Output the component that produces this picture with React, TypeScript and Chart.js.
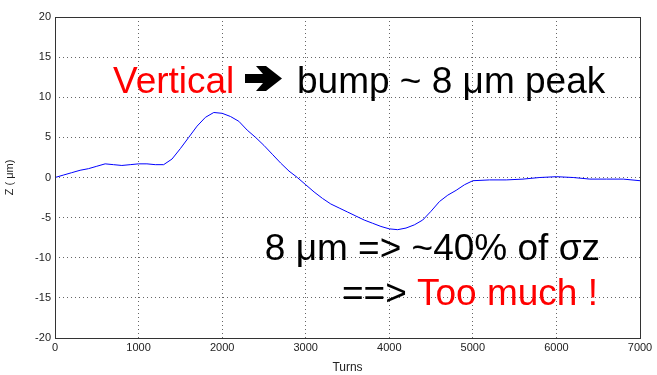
import React, { useEffect, useRef } from "react";
import { Chart, registerables } from "chart.js";

Chart.register(...registerables);

const turns = [0,100,200,300,400,500,600,700,800,900,1000,1100,1200,1300,1400,1500,1600,1700,1800,1900,2000,2100,2200,2300,2400,2500,2600,2700,2800,2900,3000,3100,3200,3300,3400,3500,3600,3700,3800,3900,4000,4100,4200,4300,4400,4500,4600,4700,4800,4900,5000,5200,5400,5600,5800,6000,6200,6400,6600,6800,7000];
const zValues = [0,0.3,0.6,0.9,1.1,1.4,1.7,1.6,1.5,1.6,1.7,1.7,1.6,1.6,2.3,3.6,5.0,6.4,7.5,8.1,8.0,7.6,7.0,5.9,5.0,4.0,2.9,1.8,0.8,0,-0.9,-1.8,-2.6,-3.3,-3.8,-4.3,-4.8,-5.3,-5.7,-6.1,-6.4,-6.5,-6.3,-5.9,-5.3,-4.2,-3.0,-2.2,-1.6,-0.9,-0.4,-0.3,-0.3,-0.2,0,0.1,0,-0.2,-0.2,-0.2,-0.4];

const xTitle = "Turns";
const yTitle = "Z ( μm)";

const annotationPlugin = {
  id: "annotations",
  afterDraw(chart: any) {
    const ctx = chart.ctx as CanvasRenderingContext2D;
    const a = chart.chartArea;
    ctx.save();
    // frame
    ctx.strokeStyle = "#333";
    ctx.lineWidth = 1;
    ctx.strokeRect(Math.round(a.left) + 0.5, Math.round(a.top) + 0.5, Math.round(a.right - a.left), Math.round(a.bottom - a.top));

    const font = '37px "Liberation Sans", Arial, sans-serif';
    ctx.textBaseline = "alphabetic";
    ctx.textAlign = "left";
    // line 1
    const y1 = 93;
    ctx.font = font;
    ctx.fillStyle = "#ff0000";
    ctx.fillText("Vertical", 113, y1);
    // arrow
    ctx.fillStyle = "#000";
    ctx.beginPath();
    const pts = [[245,74],[263,74],[256,66],[266,66],[282,78.5],[266,91],[256,91],[263,83],[245,83]];
    pts.forEach(([px, py], i) => (i ? ctx.lineTo(px, py) : ctx.moveTo(px, py)));
    ctx.closePath();
    ctx.fill();
    ctx.fillText("bump ~ 8 μm peak", 297, y1);

    // line 2
    ctx.textAlign = "right";
    ctx.fillStyle = "#000";
    ctx.fillText("8 μm => ~40% of σz", 600, 260);

    // line 3
    const red = "Too much !";
    const w = ctx.measureText(red).width;
    ctx.fillStyle = "#ff0000";
    ctx.fillText(red, 598, 305);
    ctx.fillStyle = "#000";
    ctx.fillText("==> ", 598 - w, 305);
    ctx.restore();
  },
};

export default function App() {
  const ref = useRef<HTMLCanvasElement | null>(null);
  useEffect(() => {
    if (!ref.current) return;
    const tickFont = { family: '"Liberation Sans", Arial, sans-serif', size: 11 };
    const chart = new Chart(ref.current, {
      type: "line",
      data: {
        datasets: [
          {
            data: turns.map((t, i) => ({ x: t, y: zValues[i] })),
            borderColor: "#0000ff",
            borderWidth: 1,
            pointRadius: 0,
            tension: 0,
            fill: false,
          },
        ],
      },
      options: {
        animation: false,
        responsive: false,
        maintainAspectRatio: false,
        layout: { padding: { top: 17, right: 17, left: 3, bottom: 0 } },
        plugins: { legend: { display: false }, tooltip: { enabled: false } },
        scales: {
          x: {
            type: "linear",
            min: 0,
            max: 7000,
            ticks: { stepSize: 1000, font: tickFont, color: "#222", padding: 3, maxRotation: 0, callback: (v: any) => String(v) },
            grid: { color: "#666", drawTicks: false, lineWidth: 1 },
            border: { display: false, dash: [1, 3] } as any,
            title: { display: true, text: xTitle, font: { ...tickFont, size: 12 }, color: "#222", padding: { top: 0, bottom: 0 } },
            afterFit(scale: any) { scale.height = 37; },
          },
          y: {
            type: "linear",
            min: -20,
            max: 20,
            ticks: { stepSize: 5, font: tickFont, color: "#222", padding: 4, callback: (v: any) => String(v) },
            grid: { color: "#666", drawTicks: false, lineWidth: 1 },
            border: { display: false, dash: [1, 3] } as any,
            title: { display: true, text: yTitle, font: { ...tickFont, size: 11 }, color: "#222", padding: { top: 0, bottom: 8 } },
            afterFit(scale: any) { scale.width = 52; },
          },
        },
      },
      plugins: [annotationPlugin],
    });
    return () => chart.destroy();
  }, []);
  return (
    <div style={{ position: "fixed", left: 0, top: 0, width: 657, height: 375, background: "#fff" }}>
      <canvas ref={ref} width={657} height={375} style={{ width: 657, height: 375 }} />
    </div>
  );
}
